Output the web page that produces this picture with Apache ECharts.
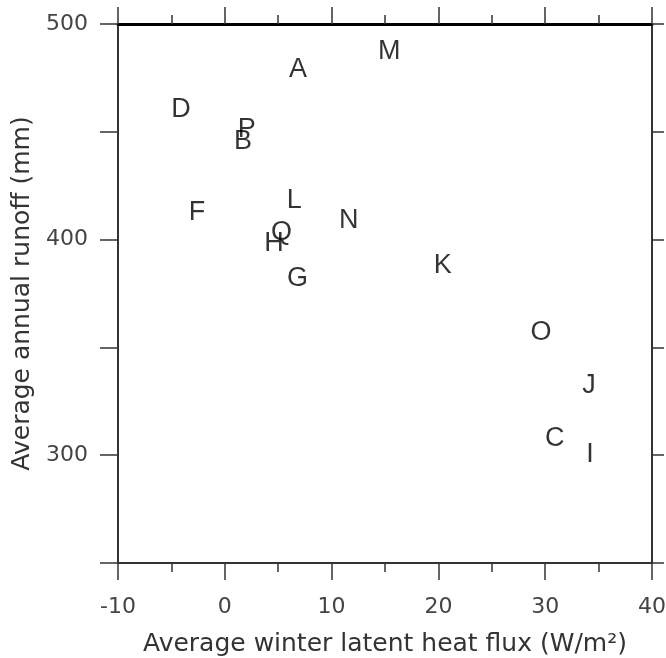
<!DOCTYPE html>
<html>
<head>
<meta charset="utf-8">
<script src="https://cdn.jsdelivr.net/npm/echarts@6/dist/echarts.min.js"></script>
<style>
  html, body { margin: 0; padding: 0; background: #fff; }
  #chart { width: 666px; height: 658px; }
</style>
</head>
<body>
<div id="chart"></div>
<script>
// station letters and their readings
var stations = ['A', 'M', 'D', 'P', 'B', 'F', 'L', 'N', 'Q', 'H', 'G', 'K', 'O', 'J', 'C', 'I'];
var heatFlux = [6.85, 15.4, -4.1, 2.05, 1.7, -2.6, 6.5, 11.6, 5.3, 4.6, 6.8, 20.4, 29.6, 34.1, 30.9, 34.2];
var runoff = [479, 487, 460.5, 451, 445.5, 412.5, 418, 409, 403.5, 398, 382, 388, 357, 332.5, 307.5, 300.5];
var xTickLabels = [-10, 0, 10, 20, 30, 40];
var yTickLabels = [300, 400, 500];

var chart = echarts.init(document.getElementById('chart'));

var points = [];
for (var i = 0; i < stations.length; i++) {
    points.push({ name: stations[i], value: [heatFlux[i], runoff[i]] });
}

var frameColor = '#333';
var labelFont = 'DejaVu Sans';

option = {
    animation: false,
    backgroundColor: '#fff',
    grid: {
        left: 118,
        right: 14,
        top: 24,
        bottom: 95,
        outerBoundsMode: 'none'
    },
    xAxis: [
        {
            type: 'value',
            position: 'bottom',
            min: -10,
            max: 40,
            interval: 10,
            name: 'Average winter latent heat flux (W/m²)',
            nameLocation: 'middle',
            nameGap: 69,
            nameTextStyle: { fontFamily: labelFont, fontSize: 25, color: '#333' },
            axisLine: { onZero: false, lineStyle: { color: frameColor, width: 2 } },
            axisTick: { length: 17, lineStyle: { color: frameColor, width: 1.5 } },
            minorTick: { show: true, splitNumber: 2, length: 9, lineStyle: { color: frameColor, width: 1.5 } },
            axisLabel: {
                margin: 33,
                fontFamily: labelFont,
                fontSize: 22,
                color: '#444',
                formatter: function (v) {
                    return xTickLabels.indexOf(v) >= 0 ? String(v) : '';
                }
            },
            splitLine: { show: false }
        },
        {
            type: 'value',
            position: 'top',
            min: -10,
            max: 40,
            interval: 10,
            axisLine: { onZero: false, lineStyle: { color: '#000', width: 3 } },
            axisTick: { length: 17, lineStyle: { color: frameColor, width: 1.5 } },
            minorTick: { show: true, splitNumber: 2, length: 9, lineStyle: { color: frameColor, width: 1.5 } },
            axisLabel: { show: false },
            splitLine: { show: false }
        }
    ],
    yAxis: [
        {
            type: 'value',
            position: 'left',
            min: 250,
            max: 500,
            interval: 50,
            name: 'Average annual runoff (mm)',
            nameLocation: 'middle',
            nameGap: 81,
            nameTextStyle: { fontFamily: labelFont, fontSize: 25, color: '#333' },
            axisLine: { onZero: false, lineStyle: { color: frameColor, width: 2 } },
            axisTick: { length: 18, lineStyle: { color: frameColor, width: 1.5 } },
            axisLabel: {
                margin: 30,
                fontFamily: labelFont,
                fontSize: 22,
                color: '#444',
                formatter: function (v) {
                    return yTickLabels.indexOf(v) >= 0 ? String(v) : '';
                }
            },
            splitLine: { show: false }
        },
        {
            type: 'value',
            position: 'right',
            min: 250,
            max: 500,
            interval: 50,
            axisLine: { onZero: false, lineStyle: { color: frameColor, width: 2 } },
            axisTick: { length: 12, lineStyle: { color: frameColor, width: 1.5 } },
            axisLabel: { show: false },
            splitLine: { show: false }
        }
    ],
    series: [
        {
            type: 'scatter',
            data: points,
            symbol: 'circle',
            symbolSize: 1,
            itemStyle: { color: 'rgba(0,0,0,0)' },
            label: {
                show: true,
                position: 'inside',
                formatter: '{b}',
                fontFamily: 'Liberation Sans',
                fontSize: 27,
                color: '#000',
                textBorderWidth: 0
            }
        }
    ]
};
chart.setOption(option);
</script>
</body>
</html>
